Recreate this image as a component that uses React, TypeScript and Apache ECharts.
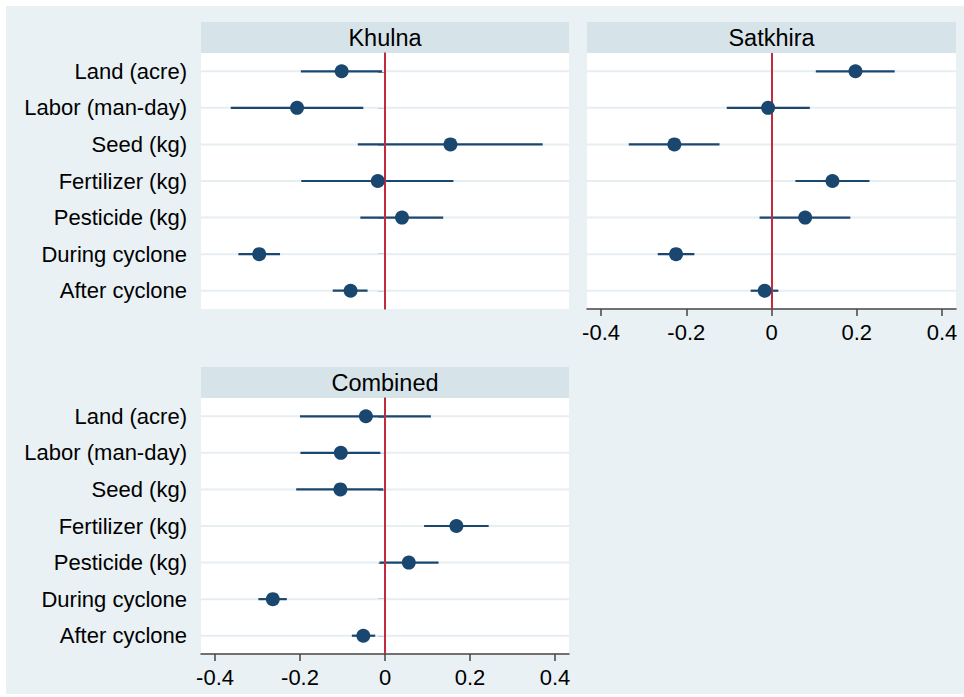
import React, { useEffect, useRef } from "react";
import * as echarts from "echarts";

const categories = [
  "Land (acre)",
  "Labor (man-day)",
  "Seed (kg)",
  "Fertilizer (kg)",
  "Pesticide (kg)",
  "During cyclone",
  "After cyclone",
];

const panelTitles = ["Khulna", "Satkhira", "Combined"];

const khulnaEst = [-0.102, -0.207, 0.154, -0.017, 0.04, -0.296, -0.081];
const khulnaLo = [-0.198, -0.363, -0.064, -0.197, -0.058, -0.345, -0.123];
const khulnaHi = [-0.007, -0.051, 0.371, 0.161, 0.137, -0.247, -0.041];

const satkhiraEst = [0.197, -0.008, -0.228, 0.143, 0.079, -0.224, -0.016];
const satkhiraLo = [0.104, -0.105, -0.335, 0.056, -0.028, -0.267, -0.049];
const satkhiraHi = [0.289, 0.09, -0.122, 0.23, 0.185, -0.181, 0.016];

const combinedEst = [-0.045, -0.104, -0.105, 0.168, 0.056, -0.264, -0.051];
const combinedLo = [-0.2, -0.199, -0.209, 0.092, -0.013, -0.298, -0.078];
const combinedHi = [0.108, -0.011, -0.004, 0.244, 0.126, -0.231, -0.023];

const xTicks = [-0.4, -0.2, 0, 0.2, 0.4];
const xMin = -0.433;
const xMax = 0.433;

const FONT = "'Liberation Sans', Arial, Helvetica, sans-serif";
const NAVY = "#1a476f";
const RED = "#c42a3e";
const AXIS = "#444";
const BG = "#e9f1f4";
const HEADER = "#d6e4ea";
const GRIDLINE = "#e6eef2";

export default function App() {
  const ref = useRef<HTMLDivElement>(null);

  useEffect(() => {
    document.body.style.margin = "0";
    const chart = echarts.init(ref.current!, null, { renderer: "svg" });

    const panels = [
      { est: khulnaEst, lo: khulnaLo, hi: khulnaHi, grid: { left: 201, top: 53, width: 368, height: 256 }, showX: false, showY: true },
      { est: satkhiraEst, lo: satkhiraLo, hi: satkhiraHi, grid: { left: 587, top: 53, width: 369, height: 256 }, showX: true, showY: false },
      { est: combinedEst, lo: combinedLo, hi: combinedHi, grid: { left: 201, top: 398, width: 368, height: 256 }, showX: true, showY: true },
    ];

    const grids: any[] = [];
    const xAxes: any[] = [];
    const yAxes: any[] = [];
    const series: any[] = [];
    const graphics: any[] = [
      { type: "rect", shape: { x: 6, y: 6, width: 958, height: 688 }, style: { fill: BG }, z: -10 },
    ];

    panels.forEach((p, i) => {
      grids.push({ ...p.grid, backgroundColor: "#fff", show: true, borderWidth: 0 });
      graphics.push({
        type: "rect",
        shape: { x: p.grid.left, y: p.grid.top - 31, width: p.grid.width, height: 31 },
        style: { fill: HEADER },
        z: -5,
      });
      graphics.push({
        type: "text",
        x: p.grid.left + p.grid.width / 2,
        y: p.grid.top - 15,
        style: {
          text: panelTitles[i],
          fontSize: 23.5,
          fontFamily: FONT,
          fill: "#000",
          align: "center",
          verticalAlign: "middle",
        },
      });
      xAxes.push({
        type: "value",
        gridIndex: i,
        min: xMin,
        max: xMax,
        axisLine: { show: p.showX, onZero: false, lineStyle: { color: AXIS, width: 1.5 } },
        axisTick: { show: p.showX, length: 7, customValues: xTicks, lineStyle: { color: AXIS, width: 1.5 } },
        axisLabel: {
          show: p.showX,
          customValues: xTicks,
          fontSize: 22,
          fontFamily: FONT,
          color: "#000",
          margin: 12,
          formatter: (v: number) => (Math.abs(v) < 1e-9 ? "0" : String(v)),
        },
        splitLine: { show: false },
      });
      yAxes.push({
        type: "category",
        gridIndex: i,
        data: categories,
        inverse: true,
        boundaryGap: true,
        axisLine: { show: p.showY, lineStyle: { color: AXIS, width: 1.5 } },
        axisTick: { show: p.showY, alignWithLabel: true, length: 7, lineStyle: { color: AXIS, width: 1.5 } },
        axisLabel: { show: p.showY, fontSize: 22, fontFamily: FONT, color: "#000", margin: 14 },
        splitLine: { show: false },
      });

      // horizontal grid lines at each category
      series.push({
        type: "custom",
        xAxisIndex: i,
        yAxisIndex: i,
        silent: true,
        z: 1,
        data: categories.map((_, k) => [k]),
        encode: { y: 0 },
        renderItem: (params: any, api: any) => {
          const pt = api.coord([0, api.value(0)]);
          const cs = params.coordSys;
          return {
            type: "line",
            shape: { x1: cs.x, y1: pt[1], x2: cs.x + cs.width, y2: pt[1] },
            style: { stroke: GRIDLINE, lineWidth: 2 },
          };
        },
      });

      // confidence intervals
      series.push({
        type: "custom",
        xAxisIndex: i,
        yAxisIndex: i,
        silent: true,
        z: 3,
        data: categories.map((_, k) => [p.lo[k], p.hi[k], k]),
        encode: { x: [0, 1], y: 2 },
        renderItem: (params: any, api: any) => {
          const a = api.coord([api.value(0), api.value(2)]);
          const b = api.coord([api.value(1), api.value(2)]);
          return {
            type: "line",
            shape: { x1: a[0], y1: a[1], x2: b[0], y2: b[1] },
            style: { stroke: NAVY, lineWidth: 2.2 },
          };
        },
      });

      // point estimates + zero line
      series.push({
        type: "scatter",
        xAxisIndex: i,
        yAxisIndex: i,
        z: 5,
        symbol: "circle",
        symbolSize: 14,
        itemStyle: { color: NAVY, opacity: 1 },
        data: categories.map((c, k) => [p.est[k], k]),
        markLine: {
          silent: true,
          symbol: "none",
          label: { show: false },
          lineStyle: { color: RED, width: 2, type: "solid" },
          data: [{ xAxis: 0 }],
          z: 4,
        },
      });
    });

    chart.setOption({
      animation: false,
      backgroundColor: "#fff",
      grid: grids,
      xAxis: xAxes,
      yAxis: yAxes,
      series,
      graphic: graphics,
    });

    return () => chart.dispose();
  }, []);

  return (
    <div
      ref={ref}
      style={{ position: "absolute", left: 0, top: 0, width: 964, height: 697 }}
    />
  );
}
